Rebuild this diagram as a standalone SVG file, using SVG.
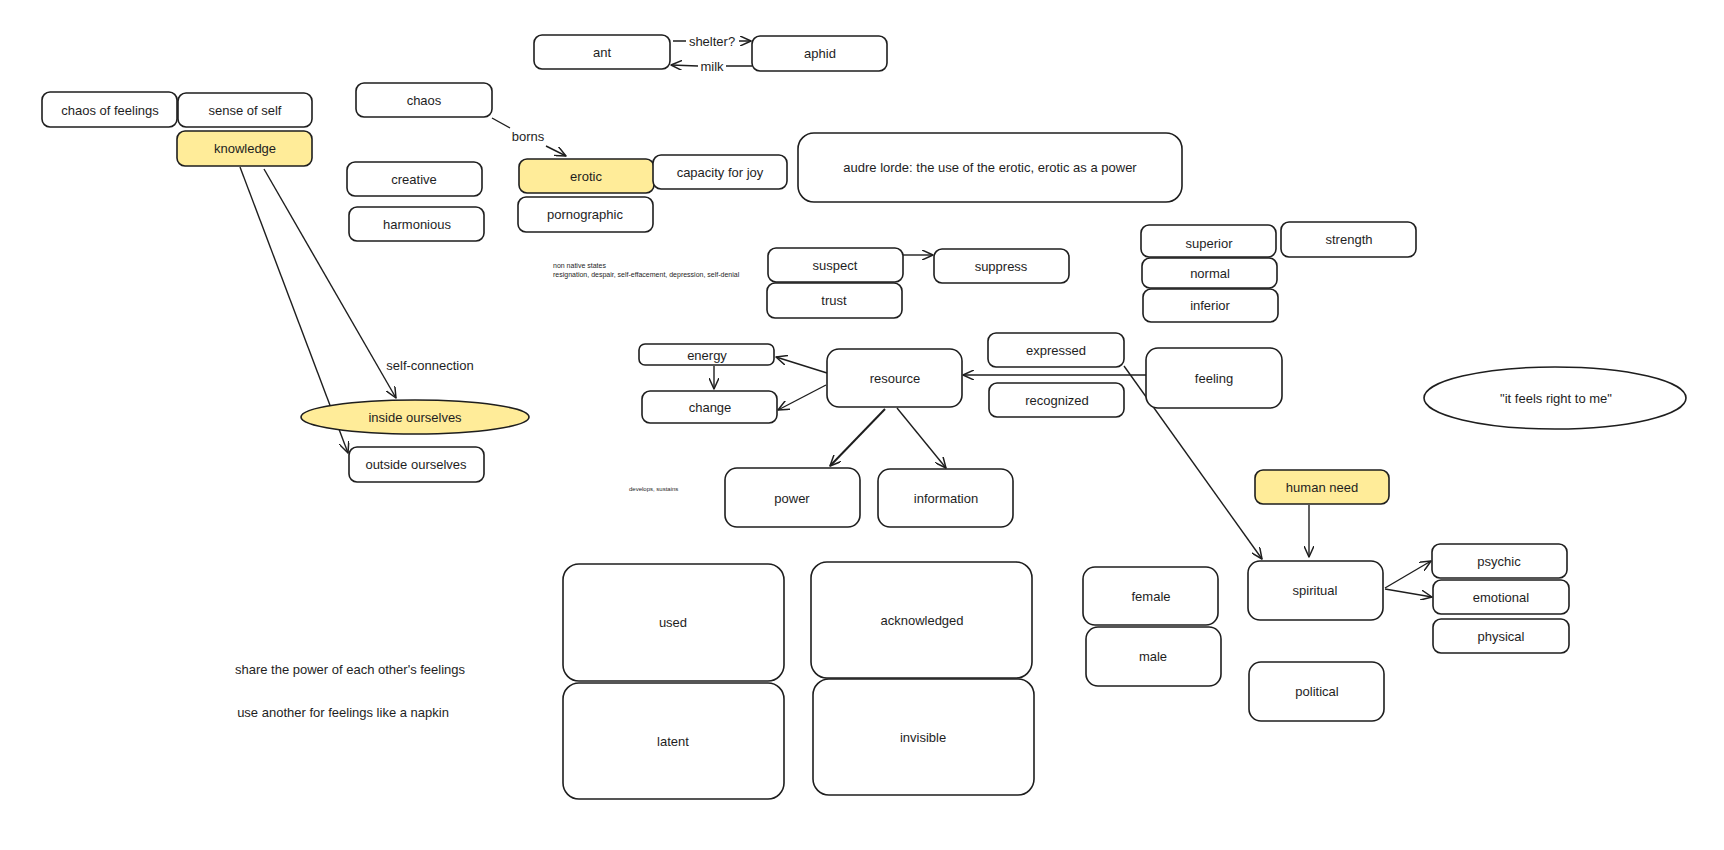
<svg xmlns="http://www.w3.org/2000/svg" width="1724" height="850" viewBox="0 0 1724 850">
<style>
.b{fill:#ffffff;stroke:#1e1e1e;stroke-width:1.6}
.y{fill:#ffec99;stroke:#1e1e1e;stroke-width:1.6}
.t{font-family:"Liberation Sans",Arial,sans-serif;font-size:13px;fill:#1e1e1e;text-anchor:middle;dominant-baseline:central}
.s{font-family:"Liberation Sans",Arial,sans-serif;fill:#1e1e1e}
.c{fill:none;stroke:#1e1e1e;stroke-width:1.4;marker-end:url(#ah)}
</style>
<defs>
<marker id="ah" viewBox="0 0 12 10" refX="11" refY="5" markerWidth="12" markerHeight="10" markerUnits="userSpaceOnUse" orient="auto">
<path d="M0,0 L11,5 L0,10" fill="none" stroke="#1e1e1e" stroke-width="1.5" stroke-linecap="round" stroke-linejoin="round"/>
</marker>
</defs>
<rect width="1724" height="850" fill="#ffffff"/>

<g id="connectors">
<path class="c" d="M492,118 L510,128 M546,146 L566,156"/>
<path class="c" d="M673,41 L686,41 M739,41 L751,41"/>
<path class="c" d="M752,66 L726,66 M698,66 L671,65"/>
<path class="c" d="M240,167 L348,453"/>
<path class="c" d="M264,169 L396,398"/>
<path class="c" d="M903,255 L933,255"/>
<path class="c" d="M827,373 L776,357"/>
<path class="c" d="M826,385 L778,410"/>
<path class="c" d="M714,366 L714,389"/>
<path class="c" style="stroke-width:2" d="M885,409 L830,466"/>
<path class="c" d="M897,408 L946,468"/>
<path class="c" d="M1146,375 L963,375"/>
<path class="c" d="M1124,366 L1262,559"/>
<path class="c" d="M1309,505 L1309,557"/>
<path class="c" d="M1385,588 L1431,561"/>
<path class="c" d="M1385,589 L1432,597"/>
<text class="t" x="528" y="136">borns</text>
<text class="t" x="712" y="41">shelter?</text>
<text class="t" x="712" y="66">milk</text>
</g>

<g id="chaos-of-feelings"><rect class="b" x="42" y="92" width="135" height="35" rx="8"/><text class="t" x="110" y="110">chaos of feelings</text></g>
<g id="sense-of-self"><rect class="b" x="178" y="93" width="134" height="34" rx="8"/><text class="t" x="245" y="110">sense of self</text></g>
<g id="knowledge"><rect class="y" x="177" y="131" width="135" height="35" rx="8"/><text class="t" x="245" y="148">knowledge</text></g>
<g id="chaos"><rect class="b" x="356" y="83" width="136" height="34" rx="8"/><text class="t" x="424" y="100">chaos</text></g>
<g id="creative"><rect class="b" x="347" y="162" width="135" height="34" rx="8"/><text class="t" x="414" y="179">creative</text></g>
<g id="harmonious"><rect class="b" x="349" y="207" width="135" height="34" rx="8"/><text class="t" x="417" y="224">harmonious</text></g>
<g id="erotic"><rect class="y" x="519" y="159" width="135" height="34" rx="8"/><text class="t" x="586" y="176">erotic</text></g>
<g id="capacity-for-joy"><rect class="b" x="653" y="155" width="134" height="34" rx="8"/><text class="t" x="720" y="172">capacity for joy</text></g>
<g id="pornographic"><rect class="b" x="518" y="197" width="135" height="35" rx="8"/><text class="t" x="585" y="214">pornographic</text></g>
<g id="ant"><rect class="b" x="534" y="35" width="136" height="34" rx="8"/><text class="t" x="602" y="52">ant</text></g>
<g id="aphid"><rect class="b" x="752" y="36" width="135" height="35" rx="8"/><text class="t" x="820" y="53">aphid</text></g>
<g id="audre-lorde"><rect class="b" x="798" y="133" width="384" height="69" rx="16"/><text class="t" x="990" y="167">audre lorde: the use of the erotic, erotic as a power</text></g>
<g id="suspect"><rect class="b" x="768" y="248" width="135" height="34" rx="8"/><text class="t" x="835" y="265">suspect</text></g>
<g id="trust"><rect class="b" x="767" y="283" width="135" height="35" rx="8"/><text class="t" x="834" y="300">trust</text></g>
<g id="suppress"><rect class="b" x="934" y="249" width="135" height="34" rx="8"/><text class="t" x="1001" y="266">suppress</text></g>
<g id="superior"><rect class="b" x="1141" y="225" width="135" height="32" rx="8"/><text class="t" x="1209" y="243">superior</text></g>
<g id="normal"><rect class="b" x="1142" y="258" width="135" height="30" rx="8"/><text class="t" x="1210" y="273">normal</text></g>
<g id="inferior"><rect class="b" x="1143" y="289" width="135" height="33" rx="8"/><text class="t" x="1210" y="305">inferior</text></g>
<g id="strength"><rect class="b" x="1281" y="222" width="135" height="35" rx="8"/><text class="t" x="1349" y="239">strength</text></g>
<g id="energy"><rect class="b" x="639" y="344" width="135" height="21" rx="6"/><text class="t" x="707" y="355">energy</text></g>
<g id="change"><rect class="b" x="642" y="391" width="135" height="32" rx="8"/><text class="t" x="710" y="407">change</text></g>
<g id="resource"><rect class="b" x="827" y="349" width="135" height="58" rx="12"/><text class="t" x="895" y="378">resource</text></g>
<g id="power"><rect class="b" x="725" y="468" width="135" height="59" rx="12"/><text class="t" x="792" y="498">power</text></g>
<g id="information"><rect class="b" x="878" y="469" width="135" height="58" rx="12"/><text class="t" x="946" y="498">information</text></g>
<g id="expressed"><rect class="b" x="988" y="333" width="136" height="34" rx="8"/><text class="t" x="1056" y="350">expressed</text></g>
<g id="recognized"><rect class="b" x="989" y="383" width="135" height="34" rx="8"/><text class="t" x="1057" y="400">recognized</text></g>
<g id="feeling"><rect class="b" x="1146" y="348" width="136" height="60" rx="12"/><text class="t" x="1214" y="378">feeling</text></g>
<g id="it-feels-right"><ellipse class="b" cx="1555" cy="398" rx="131" ry="31"/><text class="t" x="1556" y="398">"it feels right to me"</text></g>
<g id="human-need"><rect class="y" x="1255" y="470" width="134" height="34" rx="8"/><text class="t" x="1322" y="487">human need</text></g>
<g id="spiritual"><rect class="b" x="1248" y="561" width="135" height="59" rx="12"/><text class="t" x="1315" y="590">spiritual</text></g>
<g id="female"><rect class="b" x="1083" y="567" width="135" height="58" rx="12"/><text class="t" x="1151" y="596">female</text></g>
<g id="male"><rect class="b" x="1086" y="627" width="135" height="59" rx="12"/><text class="t" x="1153" y="656">male</text></g>
<g id="political"><rect class="b" x="1249" y="662" width="135" height="59" rx="12"/><text class="t" x="1317" y="691">political</text></g>
<g id="psychic"><rect class="b" x="1432" y="544" width="135" height="34" rx="8"/><text class="t" x="1499" y="561">psychic</text></g>
<g id="emotional"><rect class="b" x="1433" y="580" width="136" height="34" rx="8"/><text class="t" x="1501" y="597">emotional</text></g>
<g id="physical"><rect class="b" x="1433" y="619" width="136" height="34" rx="8"/><text class="t" x="1501" y="636">physical</text></g>
<g id="used"><rect class="b" x="563" y="564" width="221" height="117" rx="16"/><text class="t" x="673" y="622">used</text></g>
<g id="latent"><rect class="b" x="563" y="683" width="221" height="116" rx="16"/><text class="t" x="673" y="741">latent</text></g>
<g id="acknowledged"><rect class="b" x="811" y="562" width="221" height="116" rx="16"/><text class="t" x="922" y="620">acknowledged</text></g>
<g id="invisible"><rect class="b" x="813" y="679" width="221" height="116" rx="16"/><text class="t" x="923" y="737">invisible</text></g>
<g id="inside-ourselves"><ellipse class="y" cx="415" cy="417" rx="114" ry="17"/><text class="t" x="415" y="417">inside ourselves</text></g>
<g id="outside-ourselves"><rect class="b" x="349" y="447" width="135" height="35" rx="8"/><text class="t" x="416" y="464">outside ourselves</text></g>

<g id="labels">
<text class="t" x="350" y="669">share the power of each other's feelings</text>
<text class="t" x="343" y="712">use another for feelings like a napkin</text>
<text class="t" x="430" y="365">self-connection</text>
<text class="s" x="553" y="268" style="font-size:7px">non native states</text>
<text class="s" x="553" y="277" style="font-size:7px">resignation, despair, self-effacement, depression, self-denial</text>
<text class="s" x="629" y="491" style="font-size:6px">develops, sustains</text>
</g>
</svg>
